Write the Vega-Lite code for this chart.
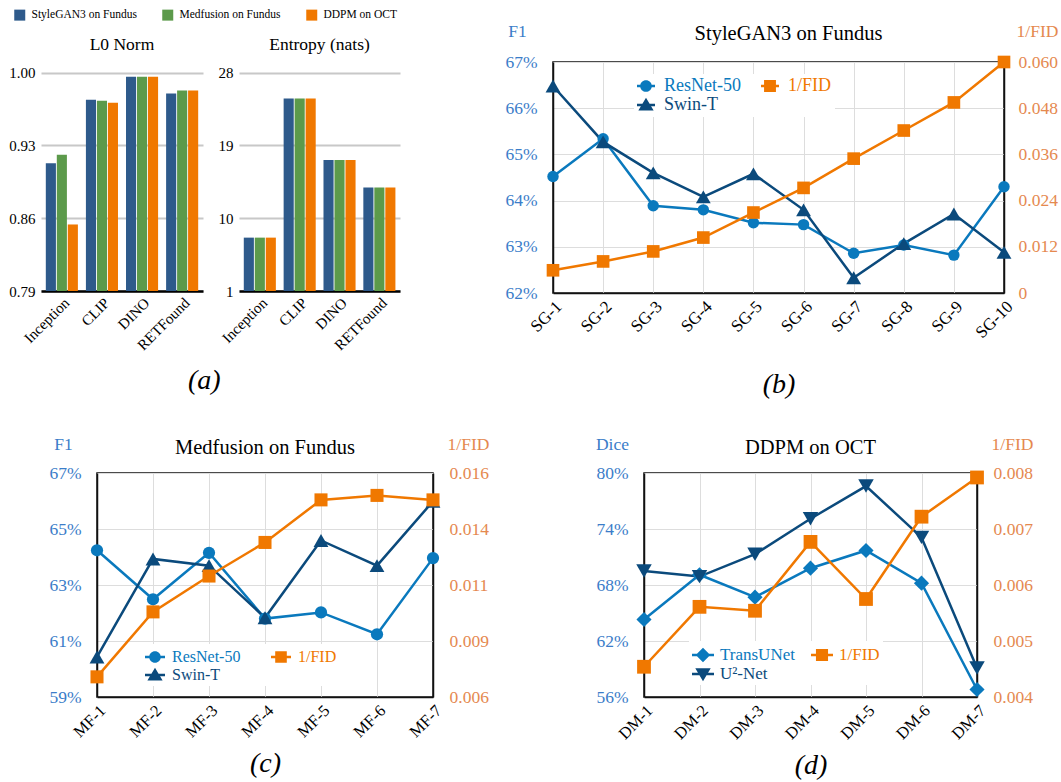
{
  "$schema": "https://vega.github.io/schema/vega-lite/v6.json",
  "padding": {"left": 8, "top": 9, "right": 0, "bottom": 0},
  "background": "white",
  "config": {
    "font": "Liberation Serif, Times New Roman, DejaVu Serif, serif",
    "view": {"stroke": null},
    "axis": {"ticks": false, "labelFont": "Liberation Serif, Times New Roman, DejaVu Serif, serif", "titleFont": "Liberation Serif, Times New Roman, DejaVu Serif, serif", "labelColor": "#000", "titleColor": "#000", "titleFontWeight": "normal"},
    "title": {"font": "Liberation Serif, Times New Roman, DejaVu Serif, serif", "fontWeight": "normal", "color": "#000"},
    "legend": {"labelFont": "Liberation Serif, Times New Roman, DejaVu Serif, serif"}
  },
  "datasets": {
    "bars": [
      {"metric": "L0 Norm", "model": "Inception", "source": "StyleGAN3 on Fundus", "value": 0.913},
      {"metric": "L0 Norm", "model": "Inception", "source": "Medfusion on Fundus", "value": 0.921},
      {"metric": "L0 Norm", "model": "Inception", "source": "DDPM on OCT", "value": 0.854},
      {"metric": "L0 Norm", "model": "CLIP", "source": "StyleGAN3 on Fundus", "value": 0.974},
      {"metric": "L0 Norm", "model": "CLIP", "source": "Medfusion on Fundus", "value": 0.973},
      {"metric": "L0 Norm", "model": "CLIP", "source": "DDPM on OCT", "value": 0.971},
      {"metric": "L0 Norm", "model": "DINO", "source": "StyleGAN3 on Fundus", "value": 0.996},
      {"metric": "L0 Norm", "model": "DINO", "source": "Medfusion on Fundus", "value": 0.996},
      {"metric": "L0 Norm", "model": "DINO", "source": "DDPM on OCT", "value": 0.996},
      {"metric": "L0 Norm", "model": "RETFound", "source": "StyleGAN3 on Fundus", "value": 0.980},
      {"metric": "L0 Norm", "model": "RETFound", "source": "Medfusion on Fundus", "value": 0.983},
      {"metric": "L0 Norm", "model": "RETFound", "source": "DDPM on OCT", "value": 0.983},
      {"metric": "Entropy", "model": "Inception", "source": "StyleGAN3 on Fundus", "value": 7.6},
      {"metric": "Entropy", "model": "Inception", "source": "Medfusion on Fundus", "value": 7.6},
      {"metric": "Entropy", "model": "Inception", "source": "DDPM on OCT", "value": 7.6},
      {"metric": "Entropy", "model": "CLIP", "source": "StyleGAN3 on Fundus", "value": 24.8},
      {"metric": "Entropy", "model": "CLIP", "source": "Medfusion on Fundus", "value": 24.8},
      {"metric": "Entropy", "model": "CLIP", "source": "DDPM on OCT", "value": 24.8},
      {"metric": "Entropy", "model": "DINO", "source": "StyleGAN3 on Fundus", "value": 17.2},
      {"metric": "Entropy", "model": "DINO", "source": "Medfusion on Fundus", "value": 17.2},
      {"metric": "Entropy", "model": "DINO", "source": "DDPM on OCT", "value": 17.2},
      {"metric": "Entropy", "model": "RETFound", "source": "StyleGAN3 on Fundus", "value": 13.8},
      {"metric": "Entropy", "model": "RETFound", "source": "Medfusion on Fundus", "value": 13.8},
      {"metric": "Entropy", "model": "RETFound", "source": "DDPM on OCT", "value": 13.8}
    ],
    "sg": [
      {"run": "SG-1", "series": "ResNet-50", "value": 64.52},
      {"run": "SG-2", "series": "ResNet-50", "value": 65.34},
      {"run": "SG-3", "series": "ResNet-50", "value": 63.89},
      {"run": "SG-4", "series": "ResNet-50", "value": 63.80},
      {"run": "SG-5", "series": "ResNet-50", "value": 63.52},
      {"run": "SG-6", "series": "ResNet-50", "value": 63.48},
      {"run": "SG-7", "series": "ResNet-50", "value": 62.86},
      {"run": "SG-8", "series": "ResNet-50", "value": 63.04},
      {"run": "SG-9", "series": "ResNet-50", "value": 62.82},
      {"run": "SG-10", "series": "ResNet-50", "value": 64.30},
      {"run": "SG-1", "series": "Swin-T", "value": 66.48},
      {"run": "SG-2", "series": "Swin-T", "value": 65.27},
      {"run": "SG-3", "series": "Swin-T", "value": 64.60},
      {"run": "SG-4", "series": "Swin-T", "value": 64.08},
      {"run": "SG-5", "series": "Swin-T", "value": 64.58},
      {"run": "SG-6", "series": "Swin-T", "value": 63.80},
      {"run": "SG-7", "series": "Swin-T", "value": 62.33},
      {"run": "SG-8", "series": "Swin-T", "value": 63.07},
      {"run": "SG-9", "series": "Swin-T", "value": 63.71},
      {"run": "SG-10", "series": "Swin-T", "value": 62.88},
      {"run": "SG-1", "series": "1/FID", "value": 0.0059},
      {"run": "SG-2", "series": "1/FID", "value": 0.0082},
      {"run": "SG-3", "series": "1/FID", "value": 0.0108},
      {"run": "SG-4", "series": "1/FID", "value": 0.0144},
      {"run": "SG-5", "series": "1/FID", "value": 0.0209},
      {"run": "SG-6", "series": "1/FID", "value": 0.0273},
      {"run": "SG-7", "series": "1/FID", "value": 0.0349},
      {"run": "SG-8", "series": "1/FID", "value": 0.0422},
      {"run": "SG-9", "series": "1/FID", "value": 0.0495},
      {"run": "SG-10", "series": "1/FID", "value": 0.0600}
    ],
    "mf": [
      {"run": "MF-1", "series": "ResNet-50", "value": 64.24},
      {"run": "MF-2", "series": "ResNet-50", "value": 62.49},
      {"run": "MF-3", "series": "ResNet-50", "value": 64.15},
      {"run": "MF-4", "series": "ResNet-50", "value": 61.80},
      {"run": "MF-5", "series": "ResNet-50", "value": 62.02},
      {"run": "MF-6", "series": "ResNet-50", "value": 61.24},
      {"run": "MF-7", "series": "ResNet-50", "value": 63.96},
      {"run": "MF-1", "series": "Swin-T", "value": 60.43},
      {"run": "MF-2", "series": "Swin-T", "value": 63.93},
      {"run": "MF-3", "series": "Swin-T", "value": 63.69},
      {"run": "MF-4", "series": "Swin-T", "value": 61.83},
      {"run": "MF-5", "series": "Swin-T", "value": 64.59},
      {"run": "MF-6", "series": "Swin-T", "value": 63.69},
      {"run": "MF-7", "series": "Swin-T", "value": 65.99},
      {"run": "MF-1", "series": "1/FID", "value": 0.0069},
      {"run": "MF-2", "series": "1/FID", "value": 0.0098},
      {"run": "MF-3", "series": "1/FID", "value": 0.0114},
      {"run": "MF-4", "series": "1/FID", "value": 0.0129},
      {"run": "MF-5", "series": "1/FID", "value": 0.0148},
      {"run": "MF-6", "series": "1/FID", "value": 0.0150},
      {"run": "MF-7", "series": "1/FID", "value": 0.0148}
    ],
    "dm": [
      {"run": "DM-1", "series": "TransUNet", "value": 64.3},
      {"run": "DM-2", "series": "TransUNet", "value": 69.1},
      {"run": "DM-3", "series": "TransUNet", "value": 66.7},
      {"run": "DM-4", "series": "TransUNet", "value": 69.8},
      {"run": "DM-5", "series": "TransUNet", "value": 71.7},
      {"run": "DM-6", "series": "TransUNet", "value": 68.2},
      {"run": "DM-7", "series": "TransUNet", "value": 56.8},
      {"run": "DM-1", "series": "U²-Net", "value": 69.5},
      {"run": "DM-2", "series": "U²-Net", "value": 68.9},
      {"run": "DM-3", "series": "U²-Net", "value": 71.3},
      {"run": "DM-4", "series": "U²-Net", "value": 75.1},
      {"run": "DM-5", "series": "U²-Net", "value": 78.6},
      {"run": "DM-6", "series": "U²-Net", "value": 73.1},
      {"run": "DM-7", "series": "U²-Net", "value": 59.1},
      {"run": "DM-1", "series": "1/FID", "value": 0.00454},
      {"run": "DM-2", "series": "1/FID", "value": 0.00561},
      {"run": "DM-3", "series": "1/FID", "value": 0.00554},
      {"run": "DM-4", "series": "1/FID", "value": 0.00677},
      {"run": "DM-5", "series": "1/FID", "value": 0.00575},
      {"run": "DM-6", "series": "1/FID", "value": 0.00722},
      {"run": "DM-7", "series": "1/FID", "value": 0.00792}
    ]
  },
  "vconcat": [
    {
      "hconcat": [
        {
          "hconcat": [
            {
              "width": 162, "height": 229,
              "title": {"text": "L0 Norm", "fontSize": 17.5, "offset": 9, "anchor": "middle", "frame": "group"},
              "data": {"name": "bars"},
              "transform": [{"filter": "datum.metric === 'L0 Norm'"}],
              "mark": {"type": "bar"},
              "encoding": {
                "x": {"field": "model", "type": "nominal", "sort": ["Inception", "CLIP", "DINO", "RETFound"], "scale": {"paddingInner": 0.2, "paddingOuter": 0.12},
                      "axis": {"title": null, "labelAngle": -45, "labelFontSize": 15, "labelPadding": 4, "domainColor": "#000", "domainWidth": 2.5}},
                "xOffset": {"field": "source", "type": "nominal", "sort": ["StyleGAN3 on Fundus", "Medfusion on Fundus", "DDPM on OCT"], "scale": {"paddingInner": 0.08}},
                "y": {"field": "value", "type": "quantitative", "scale": {"domain": [0.79, 1.0103], "zero": false, "nice": false},
                      "axis": {"title": null, "values": [0.79, 0.86, 0.93, 1.0], "format": ".2f", "domain": false, "grid": true, "gridColor": "#c8c8c8", "gridWidth": 2, "labelFontSize": 15, "labelPadding": 6}},
                "y2": {"datum": 0.79},
                "color": {"field": "source", "type": "nominal", "sort": ["StyleGAN3 on Fundus", "Medfusion on Fundus", "DDPM on OCT"],
                          "scale": {"domain": ["StyleGAN3 on Fundus", "Medfusion on Fundus", "DDPM on OCT"], "range": ["#2E5A8B", "#5C9A4B", "#F07800"]},
                          "legend": {"orient": "none", "legendX": -27, "legendY": -53, "direction": "horizontal", "title": null, "symbolType": "square", "symbolSize": 121, "symbolStrokeWidth": 0, "labelFontSize": 11.5, "columnPadding": 25, "labelOffset": 6, "padding": 0}}
              }
            },
            {
              "width": 161, "height": 229,
              "title": {"text": "Entropy (nats)", "fontSize": 17.5, "offset": 9, "anchor": "middle", "frame": "group"},
              "data": {"name": "bars"},
              "transform": [{"filter": "datum.metric === 'Entropy'"}],
              "mark": {"type": "bar"},
              "encoding": {
                "x": {"field": "model", "type": "nominal", "sort": ["Inception", "CLIP", "DINO", "RETFound"], "scale": {"paddingInner": 0.2, "paddingOuter": 0.12},
                      "axis": {"title": null, "labelAngle": -45, "labelFontSize": 15, "labelPadding": 4, "domainColor": "#000", "domainWidth": 2.5}},
                "xOffset": {"field": "source", "type": "nominal", "sort": ["StyleGAN3 on Fundus", "Medfusion on Fundus", "DDPM on OCT"], "scale": {"paddingInner": 0.08}},
                "y": {"field": "value", "type": "quantitative", "scale": {"domain": [1, 29.32], "zero": false, "nice": false},
                      "axis": {"title": null, "values": [1, 10, 19, 28], "format": "d", "domain": false, "grid": true, "gridColor": "#c8c8c8", "gridWidth": 2, "labelFontSize": 15, "labelPadding": 6}},
                "y2": {"datum": 1},
                "color": {"field": "source", "type": "nominal", "sort": ["StyleGAN3 on Fundus", "Medfusion on Fundus", "DDPM on OCT"],
                          "scale": {"domain": ["StyleGAN3 on Fundus", "Medfusion on Fundus", "DDPM on OCT"], "range": ["#2E5A8B", "#5C9A4B", "#F07800"]},
                          "legend": {"orient": "none", "legendX": -27, "legendY": -53, "direction": "horizontal", "title": null, "symbolType": "square", "symbolSize": 121, "symbolStrokeWidth": 0, "labelFontSize": 11.5, "columnPadding": 25, "labelOffset": 6, "padding": 0}}
              }
            }
          ],
          "spacing": 15,
          "title": {"text": "(a)", "orient": "bottom", "anchor": "middle", "fontSize": 28, "fontStyle": "italic", "offset": 14}
        },
        {
          "width": 451, "height": 231,
          "view": {"stroke": "#111", "strokeWidth": 1.5},
          "title": {"text": "StyleGAN3 on Fundus", "fontSize": 20.5, "offset": -22, "anchor": "middle", "frame": "group", "dx": 10},
          "data": {"name": "sg"},
          "encoding": {
            "x": {"field": "run", "type": "ordinal", "sort": ["SG-1", "SG-2", "SG-3", "SG-4", "SG-5", "SG-6", "SG-7", "SG-8", "SG-9", "SG-10"], "scale": {"type": "point", "padding": 0},
                  "axis": {"title": "(b)", "labelAngle": -45, "labelFontSize": 17, "labelPadding": 5, "grid": true, "gridColor": "#dddddd", "domainColor": "#111", "domainWidth": 1.5, "titleFontSize": 28, "titleFontStyle": "italic", "titlePadding": 30}}
          },
          "layer": [
            {
              "transform": [{"filter": "datum.series !== '1/FID'"}],
              "encoding": {
                "y": {"field": "value", "type": "quantitative", "scale": {"domain": [62, 67], "zero": false, "nice": false},
                      "axis": {"orient": "left", "values": [62, 63, 64, 65, 66, 67], "labelExpr": "datum.value + '%'", "title": "F1", "titleAngle": 0, "titleX": -36, "titleY": -31, "titleAlign": "center", "titleBaseline": "middle", "titleColor": "#3B7DC9", "titleFontSize": 17.5, "labelColor": "#3B7DC9", "labelFontSize": 17.5, "labelPadding": 16, "grid": true, "gridColor": "#dddddd", "domainColor": "#111", "domainWidth": 1.5}},
                "color": {"field": "series", "type": "nominal", "scale": {"domain": ["ResNet-50", "1/FID", "Swin-T"], "range": ["#0A79BD", "#F07800", "#0B4A7C"]},
                          "legend": {"orient": "none", "legendX": 81, "legendY": 12, "title": null, "columns": 2, "values": ["ResNet-50", "Swin-T", "1/FID"], "labelFontSize": 18, "symbolSize": 324, "symbolStrokeWidth": 0, "labelOffset": 9, "columnPadding": 20, "rowPadding": 1, "fillColor": "white", "padding": 3,
                                     "encode": {
                                       "symbols": {"update": {
                                         "shape": {"signal": "datum.value === 'ResNet-50' ? 'M-1,-0.14H1V0.14H-1Z M-0.65,0A0.65,0.65 0 1,1 0.65,0A0.65,0.65 0 1,1 -0.65,0Z' : datum.value === 'Swin-T' ? 'M-1,-0.14H1V0.14H-1Z M0,-0.8L0.85,0.62L-0.85,0.62Z' : 'M-1,-0.14H1V0.14H-1Z M-0.66,-0.66H0.66V0.66H-0.66Z'"},
                                         "fill": {"signal": "datum.value === 'ResNet-50' ? '#0A79BD' : datum.value === 'Swin-T' ? '#0B4A7C' : '#F07800'"},
                                         "strokeWidth": {"value": 0}, "opacity": {"value": 1}, "fillOpacity": {"value": 1}}},
                                       "labels": {"update": {"fill": {"signal": "datum.value === 'ResNet-50' ? '#0A79BD' : datum.value === 'Swin-T' ? '#0B4A7C' : '#F07800'"}}}
                                     }}}
              },
              "layer": [
                {"mark": {"type": "line", "strokeWidth": 2.5}, "encoding": {}},
                {"transform": [{"filter": "datum.series === 'ResNet-50'"}], "mark": {"type": "point", "filled": true, "opacity": 1, "shape": "circle", "size": 130}, "encoding": {}},
                {"transform": [{"filter": "datum.series === 'Swin-T'"}], "mark": {"type": "point", "filled": true, "opacity": 1, "shape": "triangle-up", "size": 220}, "encoding": {}}
              ]
            },
            {
              "transform": [{"filter": "datum.series === '1/FID'"}],
              "encoding": {
                "y": {"field": "value", "type": "quantitative", "scale": {"domain": [0, 0.06], "zero": false, "nice": false},
                      "axis": {"orient": "right", "values": [0, 0.012, 0.024, 0.036, 0.048, 0.06], "labelExpr": "datum.value === 0 ? '0' : format(datum.value, '.3f')", "title": "1/FID", "titleAngle": 0, "titleX": 33, "titleY": -31, "titleAlign": "center", "titleBaseline": "middle", "titleColor": "#E5894F", "titleFontSize": 17.5, "labelColor": "#E5894F", "labelFontSize": 17.5, "labelPadding": 14, "grid": false, "domainColor": "#111", "domainWidth": 1.5}},
                "color": {"field": "series", "type": "nominal", "legend": null}
              },
              "layer": [
                {"mark": {"type": "line", "strokeWidth": 2.5}, "encoding": {}},
                {"mark": {"type": "point", "filled": true, "opacity": 1, "shape": "square", "size": 160}, "encoding": {}}
              ]
            }
          ],
          "resolve": {"scale": {"y": "independent"}}
        }
      ],
      "spacing": 104,
      "resolve": {"scale": {"color": "independent", "shape": "independent", "size": "independent"}}
    },
    {
      "hconcat": [
        {"width": 1, "height": 10, "data": {"values": []}, "mark": "point"},
        {
          "hconcat": [
            {
              "width": 336, "height": 224,
              "view": {"stroke": "#111", "strokeWidth": 1.5},
              "title": {"text": "Medfusion on Fundus", "fontSize": 20.5, "offset": -23, "anchor": "middle", "frame": "group"},
              "data": {"name": "mf"},
              "encoding": {
                "x": {"field": "run", "type": "ordinal", "sort": ["MF-1", "MF-2", "MF-3", "MF-4", "MF-5", "MF-6", "MF-7"], "scale": {"type": "point", "padding": 0},
                      "axis": {"title": "(c)", "labelAngle": -45, "labelFontSize": 16.5, "labelPadding": 5, "grid": true, "gridColor": "#dddddd", "domainColor": "#111", "domainWidth": 1.5, "titleFontSize": 28, "titleFontStyle": "italic", "titlePadding": 9}}
              },
              "layer": [
                {
                  "transform": [{"filter": "datum.series !== '1/FID'"}],
                  "encoding": {
                    "y": {"field": "value", "type": "quantitative", "scale": {"domain": [59, 67], "zero": false, "nice": false},
                          "axis": {"orient": "left", "values": [59, 61, 63, 65, 67], "labelExpr": "datum.value + '%'", "title": "F1", "titleAngle": 0, "titleX": -34, "titleY": -29, "titleAlign": "center", "titleBaseline": "middle", "titleColor": "#3B7DC9", "titleFontSize": 17.5, "labelColor": "#3B7DC9", "labelFontSize": 17.5, "labelPadding": 16, "grid": true, "gridColor": "#dddddd", "domainColor": "#111", "domainWidth": 1.5}},
                    "color": {"field": "series", "type": "nominal", "scale": {"domain": ["ResNet-50", "1/FID", "Swin-T"], "range": ["#0A79BD", "#F07800", "#0B4A7C"]},
                              "legend": {"orient": "none", "legendX": 45, "legendY": 171, "title": null, "columns": 2, "values": ["ResNet-50", "Swin-T", "1/FID"], "labelFontSize": 16, "symbolSize": 400, "symbolStrokeWidth": 0, "labelOffset": 7, "columnPadding": 30, "rowPadding": 0, "fillColor": "white", "padding": 3,
                                         "encode": {
                                           "symbols": {"update": {
                                             "shape": {"signal": "datum.value === 'ResNet-50' ? 'M-1,-0.125H1V0.125H-1Z M-0.58,0A0.58,0.58 0 1,1 0.58,0A0.58,0.58 0 1,1 -0.58,0Z' : datum.value === 'Swin-T' ? 'M-1,-0.125H1V0.125H-1Z M0,-0.72L0.76,0.56L-0.76,0.56Z' : 'M-1,-0.125H1V0.125H-1Z M-0.58,-0.58H0.58V0.58H-0.58Z'"},
                                             "fill": {"signal": "datum.value === 'ResNet-50' ? '#0A79BD' : datum.value === 'Swin-T' ? '#0B4A7C' : '#F07800'"},
                                             "strokeWidth": {"value": 0}, "opacity": {"value": 1}, "fillOpacity": {"value": 1}}},
                                           "labels": {"update": {"fill": {"signal": "datum.value === 'ResNet-50' ? '#0A79BD' : datum.value === 'Swin-T' ? '#0B4A7C' : '#F07800'"}}}
                                         }}}
                  },
                  "layer": [
                    {"mark": {"type": "line", "strokeWidth": 2.5}, "encoding": {}},
                    {"transform": [{"filter": "datum.series === 'ResNet-50'"}], "mark": {"type": "point", "filled": true, "opacity": 1, "shape": "circle", "size": 150}, "encoding": {}},
                    {"transform": [{"filter": "datum.series === 'Swin-T'"}], "mark": {"type": "point", "filled": true, "opacity": 1, "shape": "triangle-up", "size": 220}, "encoding": {}}
                  ]
                },
                {
                  "transform": [{"filter": "datum.series === '1/FID'"}],
                  "encoding": {
                    "y": {"field": "value", "type": "quantitative", "scale": {"domain": [0.006, 0.016], "zero": false, "nice": false},
                          "axis": {"orient": "right", "values": [0.006, 0.0085, 0.011, 0.0135, 0.016], "labelExpr": "format(datum.value + 0.000000001, '.3f')", "title": "1/FID", "titleAngle": 0, "titleX": 35, "titleY": -29, "titleAlign": "center", "titleBaseline": "middle", "titleColor": "#E5894F", "titleFontSize": 17.5, "labelColor": "#E5894F", "labelFontSize": 17.5, "labelPadding": 16, "grid": false, "domainColor": "#111", "domainWidth": 1.5}},
                    "color": {"field": "series", "type": "nominal", "legend": null}
                  },
                  "layer": [
                    {"mark": {"type": "line", "strokeWidth": 2.5}, "encoding": {}},
                    {"mark": {"type": "point", "filled": true, "opacity": 1, "shape": "square", "size": 170}, "encoding": {}}
                  ]
                }
              ],
              "resolve": {"scale": {"y": "independent"}}
            },
            {
              "width": 333, "height": 224,
              "view": {"stroke": "#111", "strokeWidth": 1.5},
              "title": {"text": "DDPM on OCT", "fontSize": 20.5, "offset": -23, "anchor": "middle", "frame": "group"},
              "data": {"name": "dm"},
              "encoding": {
                "x": {"field": "run", "type": "ordinal", "sort": ["DM-1", "DM-2", "DM-3", "DM-4", "DM-5", "DM-6", "DM-7"], "scale": {"type": "point", "padding": 0},
                      "axis": {"title": "(d)", "labelAngle": -45, "labelFontSize": 16.5, "labelPadding": 5, "grid": true, "gridColor": "#dddddd", "domainColor": "#111", "domainWidth": 1.5, "titleFontSize": 28, "titleFontStyle": "italic", "titlePadding": 9}}
              },
              "layer": [
                {
                  "transform": [{"filter": "datum.series !== '1/FID'"}],
                  "encoding": {
                    "y": {"field": "value", "type": "quantitative", "scale": {"domain": [56, 80], "zero": false, "nice": false},
                          "axis": {"orient": "left", "values": [56, 62, 68, 74, 80], "labelExpr": "datum.value + '%'", "title": "Dice", "titleAngle": 0, "titleX": -32, "titleY": -29, "titleAlign": "center", "titleBaseline": "middle", "titleColor": "#3B7DC9", "titleFontSize": 17.5, "labelColor": "#3B7DC9", "labelFontSize": 17.5, "labelPadding": 16, "grid": true, "gridColor": "#dddddd", "domainColor": "#111", "domainWidth": 1.5}},
                    "color": {"field": "series", "type": "nominal", "scale": {"domain": ["TransUNet", "1/FID", "U²-Net"], "range": ["#0A79BD", "#F07800", "#0B4A7C"]},
                              "legend": {"orient": "none", "legendX": 45, "legendY": 168, "title": null, "columns": 2, "values": ["TransUNet", "U²-Net", "1/FID"], "labelFontSize": 17, "symbolSize": 484, "symbolStrokeWidth": 0, "labelOffset": 6, "columnPadding": 16, "rowPadding": 0, "fillColor": "white", "padding": 3,
                                         "encode": {
                                           "symbols": {"update": {
                                             "shape": {"signal": "datum.value === 'TransUNet' ? 'M-1,-0.115H1V0.115H-1Z M0,-0.66L0.66,0L0,0.66L-0.66,0Z' : datum.value === 'U²-Net' ? 'M-1,-0.115H1V0.115H-1Z M0,0.66L-0.7,-0.52L0.7,-0.52Z' : 'M-1,-0.115H1V0.115H-1Z M-0.55,-0.55H0.55V0.55H-0.55Z'"},
                                             "fill": {"signal": "datum.value === 'TransUNet' ? '#0A79BD' : datum.value === 'U²-Net' ? '#0B4A7C' : '#F07800'"},
                                             "strokeWidth": {"value": 0}, "opacity": {"value": 1}, "fillOpacity": {"value": 1}}},
                                           "labels": {"update": {"fill": {"signal": "datum.value === 'TransUNet' ? '#0A79BD' : datum.value === 'U²-Net' ? '#0B4A7C' : '#F07800'"}}}
                                         }}}
                  },
                  "layer": [
                    {"mark": {"type": "line", "strokeWidth": 2.5}, "encoding": {}},
                    {"transform": [{"filter": "datum.series === 'TransUNet'"}], "mark": {"type": "point", "filled": true, "opacity": 1, "shape": "diamond", "size": 230}, "encoding": {}},
                    {"transform": [{"filter": "datum.series === 'U²-Net'"}], "mark": {"type": "point", "filled": true, "opacity": 1, "shape": "triangle-down", "size": 240}, "encoding": {}}
                  ]
                },
                {
                  "transform": [{"filter": "datum.series === '1/FID'"}],
                  "encoding": {
                    "y": {"field": "value", "type": "quantitative", "scale": {"domain": [0.004, 0.008], "zero": false, "nice": false},
                          "axis": {"orient": "right", "values": [0.004, 0.005, 0.006, 0.007, 0.008], "labelExpr": "format(datum.value + 0.000000001, '.3f')", "title": "1/FID", "titleAngle": 0, "titleX": 35, "titleY": -29, "titleAlign": "center", "titleBaseline": "middle", "titleColor": "#E5894F", "titleFontSize": 17.5, "labelColor": "#E5894F", "labelFontSize": 17.5, "labelPadding": 16, "grid": false, "domainColor": "#111", "domainWidth": 1.5}},
                    "color": {"field": "series", "type": "nominal", "legend": null}
                  },
                  "layer": [
                    {"mark": {"type": "line", "strokeWidth": 2.5}, "encoding": {}},
                    {"mark": {"type": "point", "filled": true, "opacity": 1, "shape": "square", "size": 190}, "encoding": {}}
                  ]
                }
              ],
              "resolve": {"scale": {"y": "independent"}}
            }
          ],
          "spacing": 104,
          "resolve": {"scale": {"color": "independent", "shape": "independent", "size": "independent"}}
        }
      ],
      "spacing": 55,
      "bounds": "flush",
      "resolve": {"scale": {"color": "independent", "shape": "independent", "size": "independent"}}
    }
  ],
  "spacing": 34,
  "resolve": {"scale": {"color": "independent", "shape": "independent", "size": "independent"}}
}
